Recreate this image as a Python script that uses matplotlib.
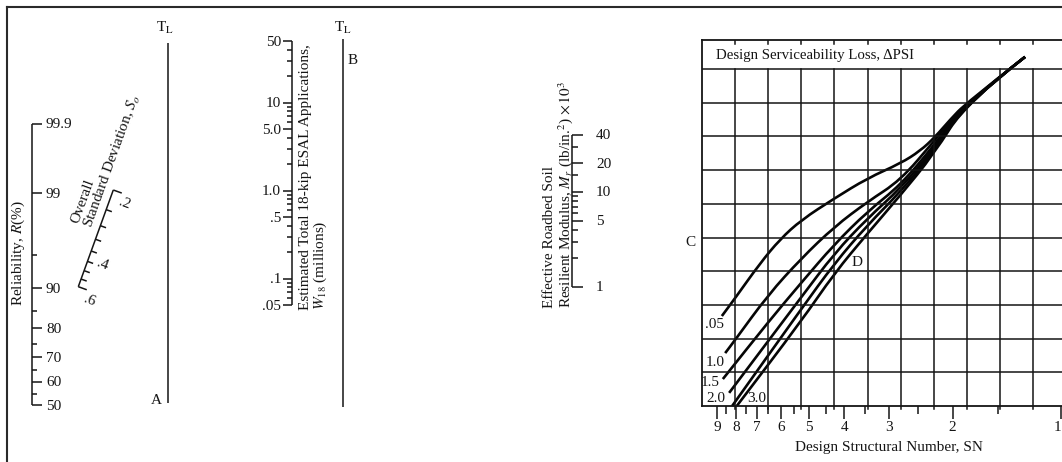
import math
from statistics import NormalDist

import numpy as np
import matplotlib
matplotlib.use("Agg")
import matplotlib.pyplot as plt
from matplotlib.path import Path
from matplotlib.patches import PathPatch

plt.rcParams["font.family"] = ["Liberation Serif", "DejaVu Serif"]
plt.rcParams["mathtext.fontset"] = "stix"

INK = "#151515"
FS = 11

# --- scale values -------------------------------------------------------
# reliability R (%)
rel_major = [50, 60, 70, 80, 90, 99, 99.9]
rel_labels = ["50", "60", "70", "80", "90", "99", "99.9"]
rel_minor = [55, 65, 75, 85, 95]

# overall standard deviation So
so_ticks = [0.2, 0.25, 0.3, 0.35, 0.4, 0.45, 0.5, 0.55, 0.6]
so_named = [0.2, 0.4, 0.6]
so_labels = [".2", ".4", ".6"]

# estimated 18-kip ESAL applications W18 (millions)
w18_major = [0.05, 0.1, 0.5, 1.0, 5.0, 10, 50]
w18_labels = [".05", ".1", ".5", "1.0", "5.0", "10", "50"]
w18_minor = [0.06, 0.07, 0.08, 0.09, 0.2, 0.3, 0.4, 0.6, 0.7, 0.8, 0.9,
             2, 3, 4, 6, 7, 8, 9, 20, 30, 40]

# effective roadbed soil resilient modulus Mr (x 1000 psi)
mr_major = [1, 5, 10, 20, 40]
mr_labels = ["1", "5", "10", "20", "40"]
mr_minor = [2, 3, 4, 6, 7, 8, 9, 15, 30]

# design structural number SN
sn_major = [1, 2, 3, 4, 5, 6, 7, 8, 9]
sn_minor = [1.5, 2.5, 3.5, 4.5, 5.5, 6.5, 7.5, 8.5]

# serviceability loss curves, in grid cells (column, row)
psi_names = [".05", "1.0", "1.5", "2.0", "2.5", "3.0"]
psi_005_col = [0.60, 1.00, 1.75, 2.36, 3.00, 4.00, 5.00, 6.00, 6.59, 7.04, 7.49, 7.98, 9.76]
psi_005_row = [2.67, 3.20, 4.23, 4.95, 5.52, 6.16, 6.76, 7.20, 7.57, 7.98, 8.49, 8.99, 10.36]
psi_10_col = [0.70, 1.00, 2.00, 3.00, 4.00, 5.00, 6.00, 7.00, 7.98, 9.76]
psi_10_row = [1.57, 1.96, 3.30, 4.38, 5.32, 6.06, 6.70, 7.85, 8.99, 10.36]
psi_15_col = [0.63, 2.00, 3.00, 4.00, 5.00, 6.00, 7.00, 7.98, 9.76]
psi_15_row = [0.80, 2.49, 3.66, 4.80, 5.77, 6.56, 7.72, 8.99, 10.36]
psi_20_col = [0.82, 3.00, 4.00, 5.00, 6.00, 7.00, 7.98, 9.76]
psi_20_row = [0.39, 3.23, 4.53, 5.57, 6.46, 7.63, 8.99, 10.36]
psi_25_col = [0.91, 3.00, 4.00, 5.00, 6.00, 7.00, 7.98, 9.76]
psi_25_row = [0.00, 2.88, 4.23, 5.37, 6.36, 7.55, 8.99, 10.36]
psi_30_col = [1.05, 3.00, 4.00, 5.00, 6.00, 7.00, 7.98, 9.76]
psi_30_row = [0.00, 2.52, 3.94, 5.12, 6.26, 7.47, 8.99, 10.36]


# --- scale geometry (page pixels) ---------------------------------------
def rel_y(r):
    return 405 - 91 * NormalDist().inv_cdf(r / 100.0)


SO_TOP = np.array([113.3, 190.0])
SO_BOT = np.array([78.3, 286.7])


def so_pt(s):
    f = math.log10(s / 0.2) / math.log10(3)
    return SO_TOP + f * (SO_BOT - SO_TOP)


def w18_y(w):
    return 305 - 88 * math.log10(w / 0.05)


def mr_y(m):
    return 286.7 - 94.7 * math.log10(m)


def sn_col(sn):
    return (359 - 360 * math.log10(sn)) / 33.1


def smooth_path(xs, ys):
    # quadratic pieces through the midpoints of the read points
    pts = list(zip(xs, ys))
    verts = [pts[0]]
    codes = [Path.MOVETO]
    if len(pts) == 2:
        verts.append(pts[1])
        codes.append(Path.LINETO)
        return Path(verts, codes)
    mid = ((pts[0][0] + pts[1][0]) / 2, (pts[0][1] + pts[1][1]) / 2)
    verts.append(mid)
    codes.append(Path.LINETO)
    for i in range(1, len(pts) - 1):
        nxt = ((pts[i][0] + pts[i + 1][0]) / 2, (pts[i][1] + pts[i + 1][1]) / 2)
        if i == len(pts) - 2:
            nxt = pts[i + 1]
        verts += [pts[i], nxt]
        codes += [Path.CURVE3, Path.CURVE3]
    return Path(verts, codes)


fig = plt.figure(figsize=(10.62, 4.62), dpi=100)
ax = fig.add_axes([0, 0, 1, 1])
ax.set_xlim(0, 1062)
ax.set_ylim(462, 0)
ax.axis("off")

kw = dict(color=INK, lw=1.1, solid_capstyle="butt")

# outer frame
ax.plot([7, 1062], [6.5, 6.5], color="#2a2a2a", lw=1.5)
ax.plot([7, 7], [6.5, 462], color="#2a2a2a", lw=1.5)

# reliability scale
ax.plot([32, 32], [rel_y(99.9), rel_y(50)], **kw)
for r, lab in zip(rel_major, rel_labels):
    y = rel_y(r)
    ax.plot([32, 42], [y, y], **kw)
    ax.text(46, y + 1, lab, fontsize=FS, ha="left", va="center", color=INK)
for r in rel_minor:
    y = rel_y(r)
    ax.plot([32, 37], [y, y], **kw)
ax.text(18, 253, "Reliability, $R$(%)", fontsize=FS, rotation=90,
        ha="center", va="center", color=INK)

# So scale
d = (SO_BOT - SO_TOP) / np.linalg.norm(SO_BOT - SO_TOP)
n = np.array([-d[1], d[0]])
if n[0] < 0:
    n = -n
ax.plot([SO_TOP[0], SO_BOT[0]], [SO_TOP[1], SO_BOT[1]], **kw)
for s in so_ticks:
    p = so_pt(s)
    ln = 9 if s in (0.2, 0.6) else 6
    q = p + n * ln
    ax.plot([p[0], q[0]], [p[1], q[1]], **kw)
for s, lab in zip(so_named, so_labels):
    p = so_pt(s) + n * 15 + d * 9
    ax.text(p[0], p[1], lab, fontsize=FS, ha="center", va="center",
            rotation=-20, color=INK)
ang = math.degrees(math.atan2(-(SO_TOP[1] - SO_BOT[1]), SO_TOP[0] - SO_BOT[0]))
p0 = so_pt(0.3) - n * 3 + d * 6
ax.text(p0[0], p0[1], "Overall\nStandard Deviation, $S_o$", fontsize=FS,
        rotation=ang, rotation_mode="anchor", ha="left", va="bottom",
        multialignment="left", linespacing=0.95, color=INK)

# TL line A
ax.plot([168, 168], [43, 403], **kw)
ax.text(165, 28, "T$_\\mathrm{L}$", fontsize=FS, ha="center", va="center", color=INK)
ax.text(162, 400, "A", fontsize=FS, ha="right", va="center", color=INK)

# W18 scale
ax.plot([292, 292], [w18_y(50), w18_y(0.05)], **kw)
for w, lab in zip(w18_major, w18_labels):
    y = w18_y(w)
    ax.plot([283, 292], [y, y], **kw)
    ax.text(281, y + 1, lab, fontsize=FS, ha="right", va="center", color=INK)
for w in w18_minor:
    y = w18_y(w)
    ax.plot([287, 292], [y, y], **kw)
ax.text(314, 310, "Estimated Total 18-kip ESAL Applications,\n$W_{18}$ (millions)",
        fontsize=FS, rotation=90, rotation_mode="anchor", ha="left", va="center",
        multialignment="left", linespacing=1.0, color=INK)

# TL line B
ax.plot([343, 343], [39, 407], **kw)
ax.text(343, 28, "T$_\\mathrm{L}$", fontsize=FS, ha="center", va="center", color=INK)
ax.text(348, 60, "B", fontsize=FS, ha="left", va="center", color=INK)

# Mr scale
ax.plot([572, 572], [mr_y(40), mr_y(1)], **kw)
for m, lab in zip(mr_major, mr_labels):
    y = mr_y(m)
    ax.plot([572, 583], [y, y], **kw)
    ax.text(596, y + 1, lab, fontsize=FS, ha="left", va="center", color=INK)
for m in mr_minor:
    y = mr_y(m)
    ax.plot([572, 578], [y, y], **kw)
ax.text(559, 308,
        "Effective Roadbed Soil\nResilient Modulus, $M_r$ (lb/in.$^2$) $\\times\\,10^3$",
        fontsize=FS, rotation=90, rotation_mode="anchor", ha="left", va="center",
        multialignment="left", linespacing=1.0, color=INK)

# --- design chart ------------------------------------------------------
XMAX = 360 / 33.1
YMAX = 366 / 33.7
rc = fig.add_axes([702 / 1062, 56 / 462, 360 / 1062, 366 / 462])
rc.set_xlim(0, XMAX)
rc.set_ylim(0, YMAX)
rc.patch.set_alpha(0)
rc.spines["right"].set_visible(False)
for sp in ("left", "top", "bottom"):
    rc.spines[sp].set_linewidth(1.3)
    rc.spines[sp].set_color(INK)

for c in range(1, 11):
    rc.plot([c, c], [-0.1, 10], color=INK, lw=1.1, clip_on=False)
    rc.plot([c, c], [YMAX, YMAX - 0.12], color=INK, lw=1.1)
for r in range(1, 11):
    rc.plot([0, XMAX], [r, r], color=INK, lw=1.1)

curves = [(psi_005_col, psi_005_row), (psi_10_col, psi_10_row),
          (psi_15_col, psi_15_row), (psi_20_col, psi_20_row),
          (psi_25_col, psi_25_row), (psi_30_col, psi_30_row)]
for cx, cy in curves:
    rc.add_patch(PathPatch(smooth_path(cx, cy), fill=False, edgecolor="#050505",
                           lw=1.9, joinstyle="round", capstyle="butt",
                           clip_on=False))

rc.set_yticks([])
rc.set_xticks([sn_col(v) for v in sn_major], labels=[str(v) for v in sn_major])
rc.set_xticks([sn_col(v) for v in sn_minor], minor=True)
rc.tick_params(axis="x", which="major", direction="out", length=9, width=1.1,
               pad=1.5, labelsize=FS, colors=INK)
rc.tick_params(axis="x", which="minor", direction="out", length=6, width=1.1,
               colors=INK)
# keep the "1" at the cut edge inside the picture
rc.get_xticklabels()[0].set_horizontalalignment("right")

ax.text(716, 55, "Design Serviceability Loss, \u0394PSI", fontsize=10.7,
        ha="left", va="center", color=INK)
ax.text(690, 243, "C", fontsize=FS, ha="center", va="center", color=INK)
ax.text(857, 262, "D", fontsize=FS, ha="center", va="center", color=INK)
psi_label_xy = [(714, 325), (715, 362), (710, 382), (716, 398), None, (757, 398)]
for name, xy in zip(psi_names, psi_label_xy):
    if xy is not None:
        ax.text(xy[0], xy[1], name, fontsize=FS, ha="center", va="center", color=INK)
ax.text(889, 448, "Design Structural Number, SN", fontsize=FS,
        ha="center", va="center", color=INK)

fig.savefig("out.png", dpi=100, facecolor="white")
